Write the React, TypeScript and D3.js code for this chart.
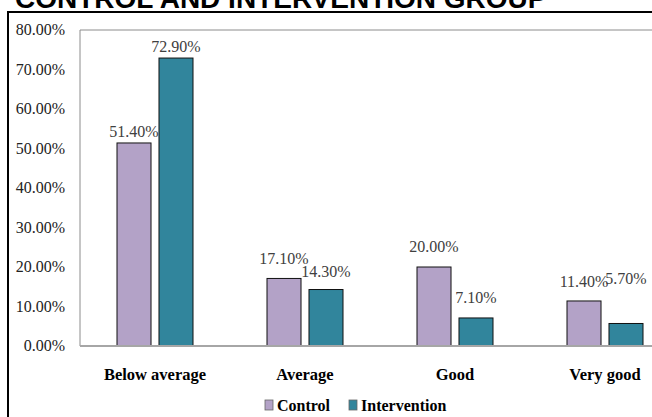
import React from "react";
import * as d3 from "d3";

// chart data
const categories = ["Below average", "Average", "Good", "Very good"];
const seriesNames = ["Control", "Intervention"];
const controlValues = [51.4, 17.1, 20.0, 11.4];
const interventionValues = [72.9, 14.3, 7.1, 5.7];
const yTicks = [0, 10, 20, 30, 40, 50, 60, 70, 80];

const colors = ["#B3A2C7", "#31859C"];
// how far each value label sits above its bar (px), per series
const labelGap = [
  [6, 14, 15, 14],
  [6, 13, 15, 39],
];

const W = 652;
const H = 417;
const left = 80;
const top = 30;
const bottom = 346;
const serif = "Liberation Serif, Times New Roman, DejaVu Serif, serif";

const App = () => {
  const values = [controlValues, interventionValues];

  const x = d3.scaleBand<string>().domain(categories).range([left, left + 600]);
  const inner = d3
    .scaleBand<string>()
    .domain(seriesNames)
    .range([37, 113])
    .paddingInner(0.19);
  const y = d3.scaleLinear().domain([0, 80]).range([bottom, top]);

  return (
    <svg
      width={W}
      height={H}
      style={{ position: "absolute", left: 0, top: 0, background: "#fff" }}
    >
      {/* title, cut off at the top like the original */}
      <text
        x={15}
        y={8}
        style={{ fontFamily: "Liberation Sans, Arial, sans-serif" }}
        fontWeight="bold"
        fontSize={28}
        fill="#000"
      >
        CONTROL AND INTERVENTION GROUP
      </text>

      {/* outer border */}
      <path d={`M8,${H + 5} V12 H${W + 5}`} fill="none" stroke="#000" strokeWidth={2} />

      {/* plot frame */}
      <path d={`M${left},${bottom} V${top} H${W + 5}`} fill="none" stroke="#8c8c8c" strokeWidth={1} />

      <g style={{ fontFamily: serif }}>
        {/* y tick labels */}
        {yTicks.map((t) => (
          <text key={t} x={65} y={y(t) + 5} textAnchor="end" fontSize={16} fill="#222">
            {t.toFixed(2)}%
          </text>
        ))}

        {/* bars */}
        {categories.map((c, i) => (
          <g key={c}>
            {seriesNames.map((s, k) => {
              const v = values[k][i];
              const bx = (x(c) ?? 0) + (inner(s) ?? 0);
              return (
                <g key={s}>
                  <rect
                    x={bx}
                    y={y(v)}
                    width={inner.bandwidth()}
                    height={bottom - y(v)}
                    fill={colors[k]}
                    stroke="#111"
                    strokeWidth={1}
                  />
                  <text
                    x={bx + inner.bandwidth() / 2}
                    y={y(v) - labelGap[k][i]}
                    textAnchor="middle"
                    fontSize={16}
                    fill="#404040"
                  >
                    {v.toFixed(2)}%
                  </text>
                </g>
              );
            })}
            <text
              x={(x(c) ?? 0) + x.bandwidth() / 2}
              y={380}
              textAnchor="middle"
              fontWeight="bold"
              fontSize={16.5}
              fill="#000"
            >
              {c}
            </text>
          </g>
        ))}

        {/* legend */}
        {seriesNames.map((s, k) => {
          const lx = [265, 349][k];
          return (
            <g key={s}>
              <rect x={lx} y={400} width={8} height={10} fill={colors[k]} stroke="#666" strokeWidth={0.8} />
              <text x={lx + 12} y={411} fontWeight="bold" fontSize={16} fill="#000">
                {s}
              </text>
            </g>
          );
        })}
      </g>

      {/* x axis line */}
      <line x1={left} x2={W + 5} y1={bottom} y2={bottom} stroke="#a6a6a6" strokeWidth={2} />
    </svg>
  );
};

export default App;
